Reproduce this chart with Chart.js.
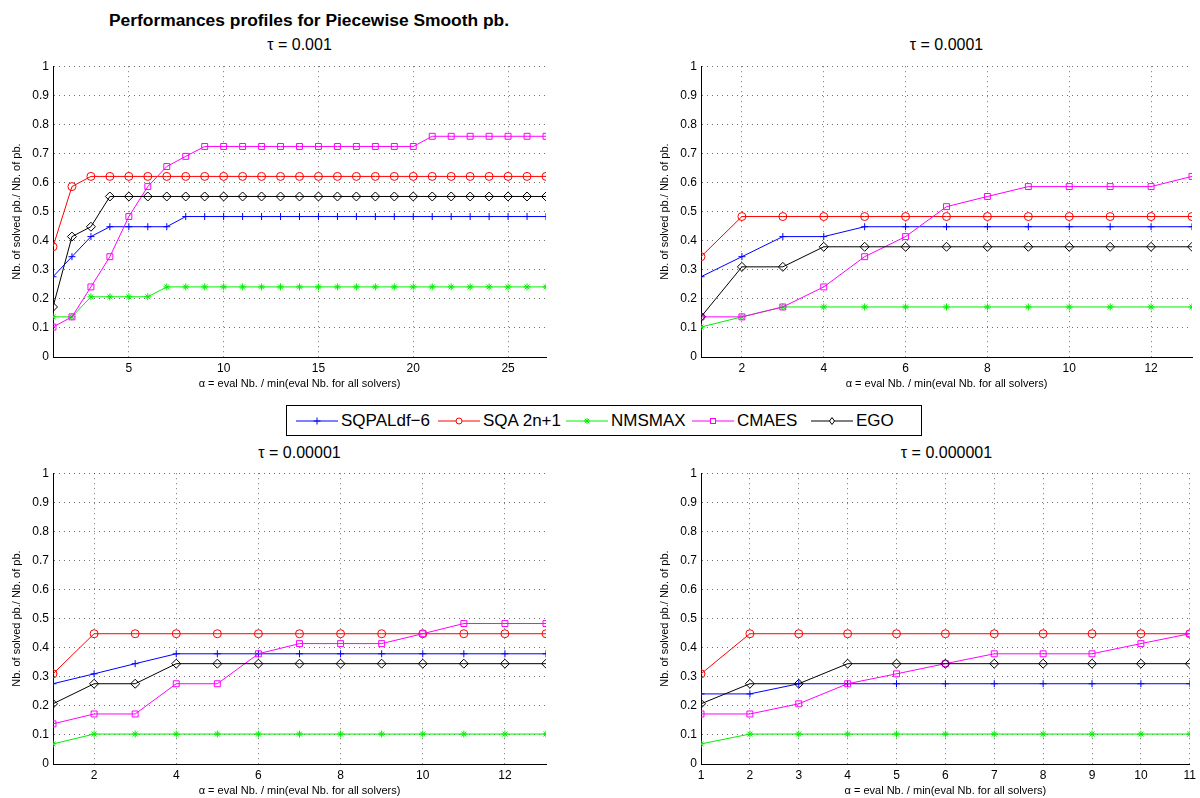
<!DOCTYPE html>
<html><head><meta charset="utf-8">
<script src="https://cdn.jsdelivr.net/npm/chart.js@4.4.1/dist/chart.umd.min.js"></script>
<style>
html,body{margin:0;padding:0;background:#fff;}
body{width:1200px;height:798px;overflow:hidden;position:relative;font-family:"Liberation Sans",Arial,Helvetica,sans-serif;color:#000;}
canvas{position:absolute;}
.t{position:absolute;white-space:nowrap;transform:translate(-50%,-50%);line-height:1;}
#legend{position:absolute;border:1px solid #000;background:#fff;box-sizing:border-box;}
.le{position:absolute;top:0;height:100%;display:flex;align-items:center;font-size:17px;white-space:nowrap;}
.le svg{margin-right:3px;}
</style></head><body>
<div class="t" id="mainTitle" style="left:309px;top:21px;font-weight:bold;font-size:17.4px;"></div>
<div id="legend"></div>
<script>
// ---------- data ----------
const seriesNames = ['SQPALdf\u22126', 'SQA 2n+1', 'NMSMAX', 'CMAES', 'EGO'];
const mainTitle = 'Performances profiles for Piecewise Smooth pb.';
const tauLabels = ['\u03c4 = 0.001', '\u03c4 = 0.0001', '\u03c4 = 0.00001', '\u03c4 = 0.000001'];
const xAxisLabel = '\u03b1 = eval Nb. / min(eval Nb. for all solvers)';
const yAxisLabel = 'Nb. of solved pb./ Nb. of pb.';

const alpha1 = [1,2,3,4,5,6,7,8,9,10,11,12,13,14,15,16,17,18,19,20,21,22,23,24,25,26,27];
const alpha2 = [1,2,3,4,5,6,7,8,9,10,11,12,13];
const alpha3 = [1,2,3,4,5,6,7,8,9,10,11,12,13];
const alpha4 = [1,2,3,4,5,6,7,8,9,10,11];

const xTicks1 = [5,10,15,20,25];
const xTicks2 = [2,4,6,8,10,12];
const xTicks3 = [2,4,6,8,10,12];
const xTicks4 = [1,2,3,4,5,6,7,8,9,10,11];
const yTicks = [0,0.1,0.2,0.3,0.4,0.5,0.6,0.7,0.8,0.9,1];

// tau = 0.001
const sqpal1 = [0.276,0.345,0.414,0.448,0.448,0.448,0.448,0.483,0.483,0.483,0.483,0.483,0.483,0.483,0.483,0.483,0.483,0.483,0.483,0.483,0.483,0.483,0.483,0.483,0.483,0.483,0.483];
const sqa1   = [0.379,0.586,0.621,0.621,0.621,0.621,0.621,0.621,0.621,0.621,0.621,0.621,0.621,0.621,0.621,0.621,0.621,0.621,0.621,0.621,0.621,0.621,0.621,0.621,0.621,0.621,0.621];
const nms1   = [0.138,0.138,0.207,0.207,0.207,0.207,0.241,0.241,0.241,0.241,0.241,0.241,0.241,0.241,0.241,0.241,0.241,0.241,0.241,0.241,0.241,0.241,0.241,0.241,0.241,0.241,0.241];
const cma1   = [0.103,0.138,0.241,0.345,0.483,0.586,0.655,0.690,0.724,0.724,0.724,0.724,0.724,0.724,0.724,0.724,0.724,0.724,0.724,0.724,0.759,0.759,0.759,0.759,0.759,0.759,0.759];
const ego1   = [0.172,0.414,0.448,0.552,0.552,0.552,0.552,0.552,0.552,0.552,0.552,0.552,0.552,0.552,0.552,0.552,0.552,0.552,0.552,0.552,0.552,0.552,0.552,0.552,0.552,0.552,0.552];

// tau = 0.0001
const sqpal2 = [0.276,0.345,0.414,0.414,0.448,0.448,0.448,0.448,0.448,0.448,0.448,0.448,0.448];
const sqa2   = [0.345,0.483,0.483,0.483,0.483,0.483,0.483,0.483,0.483,0.483,0.483,0.483,0.483];
const nms2   = [0.103,0.138,0.172,0.172,0.172,0.172,0.172,0.172,0.172,0.172,0.172,0.172,0.172];
const cma2   = [0.138,0.138,0.172,0.241,0.345,0.414,0.517,0.552,0.586,0.586,0.586,0.586,0.621];
const ego2   = [0.138,0.310,0.310,0.379,0.379,0.379,0.379,0.379,0.379,0.379,0.379,0.379,0.379];

// tau = 0.00001
const sqpal3 = [0.276,0.310,0.345,0.379,0.379,0.379,0.379,0.379,0.379,0.379,0.379,0.379,0.379];
const sqa3   = [0.310,0.448,0.448,0.448,0.448,0.448,0.448,0.448,0.448,0.448,0.448,0.448,0.448];
const nms3   = [0.069,0.103,0.103,0.103,0.103,0.103,0.103,0.103,0.103,0.103,0.103,0.103,0.103];
const cma3   = [0.138,0.172,0.172,0.276,0.276,0.379,0.414,0.414,0.414,0.448,0.483,0.483,0.483];
const ego3   = [0.207,0.276,0.276,0.345,0.345,0.345,0.345,0.345,0.345,0.345,0.345,0.345,0.345];

// tau = 0.000001
const sqpal4 = [0.241,0.241,0.276,0.276,0.276,0.276,0.276,0.276,0.276,0.276,0.276];
const sqa4   = [0.310,0.448,0.448,0.448,0.448,0.448,0.448,0.448,0.448,0.448,0.448];
const nms4   = [0.069,0.103,0.103,0.103,0.103,0.103,0.103,0.103,0.103,0.103,0.103];
const cma4   = [0.172,0.172,0.207,0.276,0.310,0.345,0.379,0.379,0.379,0.414,0.448];
const ego4   = [0.207,0.276,0.276,0.345,0.345,0.345,0.345,0.345,0.345,0.345,0.345];

// ---------- styles / layout ----------
const seriesStyles = [
  {color:'#0000ff', point:'cross',   radius:3.5},
  {color:'#ff0000', point:'circle',  radius:4},
  {color:'#00ee00', point:'star',    radius:3.5},
  {color:'#ff00ff', point:'rect',    radius:4.2},
  {color:'#000000', point:'rectRot', radius:4.5}
];
const panels = [
  {alpha:alpha1, ticks:xTicks1, series:[sqpal1,sqa1,nms1,cma1,ego1], area:{l:53,r:546,t:64,b:357}, titleY:45},
  {alpha:alpha2, ticks:xTicks2, series:[sqpal2,sqa2,nms2,cma2,ego2], area:{l:701,r:1192,t:64,b:357}, titleY:45},
  {alpha:alpha3, ticks:xTicks3, series:[sqpal3,sqa3,nms3,cma3,ego3], area:{l:53,r:546,t:471,b:764}, titleY:453},
  {alpha:alpha4, ticks:xTicks4, series:[sqpal4,sqa4,nms4,cma4,ego4], area:{l:701,r:1192,t:471,b:764}, titleY:453}
];
const Y_AXIS_W = 53, X_AXIS_H = 34, PAD_TOP = 9, PAD_RIGHT = 8;
const FONT = '"Liberation Sans", Arial, Helvetica, sans-serif';

document.getElementById('mainTitle').textContent = mainTitle;

panels.forEach((p, i) => {
  const a = p.area;
  const cv = document.createElement('canvas');
  const w = a.r - a.l + Y_AXIS_W + PAD_RIGHT;
  const h = a.b - a.t + PAD_TOP + X_AXIS_H;
  cv.width = w; cv.height = h;
  cv.style.left = (a.l - Y_AXIS_W) + 'px';
  cv.style.top = (a.t - PAD_TOP) + 'px';
  cv.style.width = w + 'px'; cv.style.height = h + 'px';
  document.body.appendChild(cv);

  const st = document.createElement('div');
  st.className = 't';
  st.style.left = ((a.l + a.r) / 2) + 'px';
  st.style.top = p.titleY + 'px';
  st.style.fontSize = '16px';
  st.textContent = tauLabels[i];
  document.body.appendChild(st);

  const datasets = p.series.map((vals, k) => ({
    label: seriesNames[k],
    data: p.alpha.map((x, j) => ({x: x, y: vals[j]})),
    borderColor: seriesStyles[k].color,
    backgroundColor: seriesStyles[k].color,
    borderWidth: 1,
    pointStyle: seriesStyles[k].point,
    pointRadius: seriesStyles[k].radius,
    pointBorderColor: seriesStyles[k].color,
    pointBackgroundColor: 'rgba(0,0,0,0)',
    pointBorderWidth: 1,
    tension: 0,
    fill: false,
    order: 4 - k
  }));

  new Chart(cv, {
    type: 'line',
    data: {datasets},
    options: {
      responsive: false,
      animation: false,
      devicePixelRatio: 1,
      layout: {padding: {top: PAD_TOP, right: PAD_RIGHT, bottom: 0, left: 0}},
      plugins: {legend: {display: false}, tooltip: {enabled: false}, title: {display: false}},
      scales: {
        x: {
          type: 'linear',
          min: p.alpha[0],
          max: p.alpha[p.alpha.length - 1],
          afterBuildTicks: s => { s.ticks = p.ticks.map(v => ({value: v})); },
          afterFit: s => { s.height = X_AXIS_H; },
          ticks: {color: '#000', font: {family: FONT, size: 12}, padding: 4, maxRotation: 0, autoSkip: false,
                  callback: v => String(v)},
          grid: {color: 'rgba(0,0,0,0.55)', lineWidth: 1, drawTicks: false},
          border: {display: true, color: '#000', width: 1, dash: [1, 4]},
          title: {display: true, text: xAxisLabel, color: '#000', font: {family: FONT, size: 11}, padding: {top: 0, bottom: 0}}
        },
        y: {
          type: 'linear',
          min: 0, max: 1,
          afterBuildTicks: s => { s.ticks = yTicks.map(v => ({value: v})); },
          afterFit: s => { s.width = Y_AXIS_W; },
          ticks: {color: '#000', font: {family: FONT, size: 12}, padding: 4, autoSkip: false,
                  callback: v => String(Number(v.toFixed(1)))},
          grid: {color: 'rgba(0,0,0,0.55)', lineWidth: 1, drawTicks: false},
          border: {display: true, color: '#000', width: 1, dash: [1, 4]},
          title: {display: true, text: yAxisLabel, color: '#000', font: {family: FONT, size: 11}, padding: {top: 10, bottom: 0}}
        }
      }
    }
  });
});

// ---------- legend ----------
const legendBox = {l:286, t:405, w:636, h:31};
const legendEntryX = [9, 151, 279, 405, 524];
const lg = document.getElementById('legend');
lg.style.left = legendBox.l + 'px'; lg.style.top = legendBox.t + 'px';
lg.style.width = legendBox.w + 'px'; lg.style.height = legendBox.h + 'px';
function markerSvg(st) {
  const c = st.color, cx = 21, cy = 7;
  let m = '';
  if (st.point === 'cross') m = `<path d="M${cx-3.5} ${cy}H${cx+3.5}M${cx} ${cy-3.5}V${cy+3.5}" stroke="${c}" />`;
  else if (st.point === 'circle') m = `<circle cx="${cx}" cy="${cy}" r="3" fill="#fff" stroke="${c}"/>`;
  else if (st.point === 'star') m = `<path d="M${cx-3} ${cy}H${cx+3}M${cx} ${cy-3}V${cy+3}M${cx-2.2} ${cy-2.2}L${cx+2.2} ${cy+2.2}M${cx-2.2} ${cy+2.2}L${cx+2.2} ${cy-2.2}" stroke="${c}"/>`;
  else if (st.point === 'rect') m = `<rect x="${cx-2.5}" y="${cy-2.5}" width="5" height="5" fill="#fff" stroke="${c}"/>`;
  else m = `<path d="M${cx} ${cy-3.5}L${cx+2.5} ${cy}L${cx} ${cy+3.5}L${cx-2.5} ${cy}Z" fill="#fff" stroke="${c}"/>`;
  return `<svg width="42" height="14" viewBox="0 0 42 14"><line x1="0" y1="${cy}" x2="42" y2="${cy}" stroke="${c}" stroke-width="1"/>${m}</svg>`;
}
seriesNames.forEach((name, k) => {
  const e = document.createElement('div');
  e.className = 'le';
  e.style.left = legendEntryX[k] + 'px';
  e.innerHTML = markerSvg(seriesStyles[k]) + '<span></span>';
  e.querySelector('span').textContent = name;
  lg.appendChild(e);
});
</script>
</body></html>
